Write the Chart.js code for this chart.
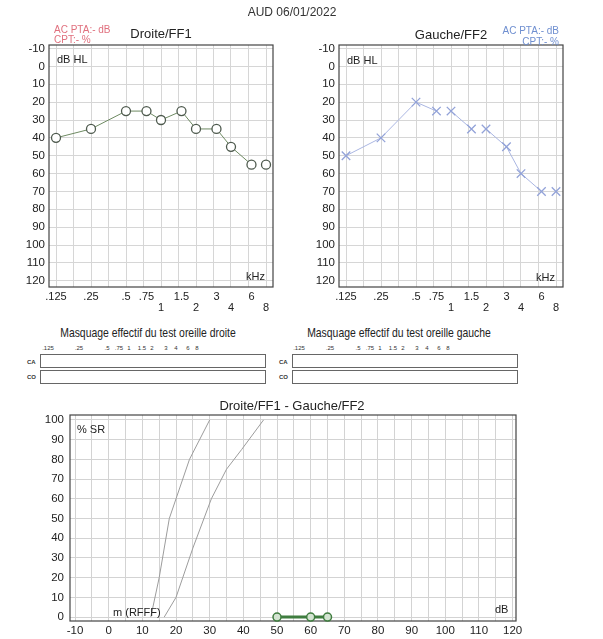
<!DOCTYPE html>
<html>
<head>
<meta charset="utf-8">
<script src="https://cdn.jsdelivr.net/npm/chart.js@4.4.0/dist/chart.umd.min.js"></script>
<style>
  body { margin: 0; background: #fff; font-family: "Liberation Sans", Arial, sans-serif; }
  #page { position: relative; width: 603px; height: 639px; overflow: hidden; }
  canvas { position: absolute; }
  .t { position: absolute; white-space: nowrap; line-height: 1; color: #222; transform: translateY(-50%); }
  .c { transform: translate(-50%, -50%); }
  .r { transform: translate(-100%, -50%); }
  .sq { transform: translate(-50%, -50%) scaleX(0.8); }
  .box { position: absolute; border: 1px solid #666; box-sizing: border-box; }
  .red { color: #e0707e; font-size: 10px; }
  .blue { color: #6f8fd0; font-size: 10px; }
  .tiny { font-size: 6px; color: #333; }
  .lab { font-size: 6px; font-weight: bold; color: #333; }
</style>
</head>
<body>
<div id="page">
  <canvas id="droite" width="290" height="320" style="left:0;top:0"></canvas>
  <canvas id="gauche" width="290" height="320" style="left:290px;top:0"></canvas>
  <canvas id="vocal" width="540" height="239" style="left:0;top:400px"></canvas>

  <div class="t c" style="left:292px;top:12px;font-size:12px;color:#333">AUD 06/01/2022</div>

  <div class="t red" style="left:54px;top:30px">AC PTA:- dB</div>
  <div class="t red" style="left:54px;top:40px">CPT:- %</div>
  <div class="t c" style="left:161px;top:33px;font-size:13px">Droite/FF1</div>
  <div class="t" style="left:57px;top:59px;font-size:11px">dB HL</div>
  <div class="t r" style="left:265px;top:276px;font-size:11px">kHz</div>

  <div class="t c" style="left:451px;top:34px;font-size:13px">Gauche/FF2</div>
  <div class="t blue r" style="left:559px;top:31px">AC PTA:- dB</div>
  <div class="t blue r" style="left:559px;top:42px">CPT:- %</div>
  <div class="t" style="left:347px;top:60px;font-size:11px">dB HL</div>
  <div class="t r" style="left:555px;top:277px;font-size:11px">kHz</div>

  <div class="t sq" style="left:148px;top:332px;font-size:13px">Masquage effectif du test oreille droite</div>
  <div class="t sq" style="left:399px;top:332px;font-size:13px">Masquage effectif du test oreille gauche</div>
  <div id="maskLeft"></div>
  <div id="maskRight"></div>
  <div class="t lab" style="left:27px;top:362px">CA</div>
  <div class="t lab" style="left:27px;top:377px">CO</div>
  <div class="t lab" style="left:279px;top:362px">CA</div>
  <div class="t lab" style="left:279px;top:377px">CO</div>
  <div class="box" style="left:40px;top:354px;width:226px;height:14px"></div>
  <div class="box" style="left:40px;top:370px;width:226px;height:14px"></div>
  <div class="box" style="left:292px;top:354px;width:226px;height:14px"></div>
  <div class="box" style="left:292px;top:370px;width:226px;height:14px"></div>

  <div class="t c" style="left:292px;top:405px;font-size:13px">Droite/FF1 - Gauche/FF2</div>
  <div class="t" style="left:77px;top:429px;font-size:11px">% SR</div>
  <div class="t" style="left:113px;top:612px;font-size:11px">m (RFFF)</div>
  <div class="t" style="left:495px;top:609px;font-size:11px">dB</div>
</div>

<script>
// tonal audiogram (free field)
const freqs = [0.125, 0.25, 0.5, 0.75, 1, 1.5, 2, 3, 4, 6, 8];
const freqLabels = ['.125', '.25', '.5', '.75', '1', '1.5', '2', '3', '4', '6', '8'];
const lowerRow = ['1', '2', '4', '8'];
const droite = [40, 35, 25, 25, 30, 25, 35, 35, 45, 55, 55];
const gauche = [50, 40, 20, 25, 25, 35, 35, 45, 60, 70, 70];
const dbTicks = [-10, 0, 10, 20, 30, 40, 50, 60, 70, 80, 90, 100, 110, 120];

// speech audiogram
const vocalTicks = [-10, -5, 0, 5, 10, 15, 20, 25, 30, 35, 40, 45, 50, 55, 60, 65, 70, 75, 80, 85, 90, 95, 100, 105, 110, 115, 120];
const srTicks = [0, 10, 20, 30, 40, 50, 60, 70, 80, 90, 100];
const normaleA_x = [12.5, 15, 18, 20, 24, 30];
const normaleA_y = [0, 20, 50, 60, 80, 100];
const normaleB_x = [16.5, 20, 22, 25, 30.5, 35, 39.5, 46];
const normaleB_y = [0, 10, 20, 35, 60, 75, 85, 100];
const seuil_x = [50, 60, 65];
const seuil_y = [0, 0, 0];

// masking strip labels (offsets in px from .125)
const maskOffsets = [0, 31, 59, 71, 81, 94, 104, 118, 128, 140, 149];

Chart.defaults.font.family = '"Liberation Sans", Arial, sans-serif';
Chart.defaults.color = '#222';

const frame = {
  id: 'frame',
  beforeDatasetsDraw(chart) {
    const a = chart.chartArea, ctx = chart.ctx;
    ctx.save();
    ctx.strokeStyle = '#444';
    ctx.lineWidth = 1.2;
    ctx.strokeRect(a.left, a.top, a.right - a.left, a.bottom - a.top);
    ctx.restore();
  }
};

// half-octave grid from .125 to 8 kHz
const halfOctaves = [];
for (let k = 0; k <= 12; k++) halfOctaves.push(0.125 * Math.pow(2, k / 2));
const fMin = 0.125 * Math.pow(2, -0.2), fMax = 8 * Math.pow(2, 0.2);

function audiogram(id, values, markColor, lineColor, style, radius) {
  return new Chart(document.getElementById(id), {
    type: 'line',
    data: {
      datasets: [{
        data: freqs.map((f, i) => ({ x: f, y: values[i] })),
        borderColor: lineColor,
        borderWidth: 1,
        pointStyle: style,
        pointRadius: radius,
        pointBorderColor: markColor,
        pointBackgroundColor: '#fff',
        pointBorderWidth: 1.3,
        clip: false,
        segment: {
          // the software leaves no line between close equal symbols
          borderColor: c => (c.p0.parsed.y === c.p1.parsed.y &&
            Math.log2(c.p1.parsed.x / c.p0.parsed.x) < 0.5) ? 'rgba(0,0,0,0)' : lineColor
        }
      }]
    },
    options: {
      responsive: false,
      animation: false,
      layout: { padding: { top: 45, right: 17, left: 0, bottom: 0 } },
      plugins: { legend: { display: false }, tooltip: { enabled: false } },
      scales: {
        x: {
          type: 'logarithmic', min: fMin, max: fMax,
          afterBuildTicks: s => { s.ticks = halfOctaves.map(v => ({ value: v })); },
          ticks: { display: false },
          grid: { color: '#d6d6d6', drawTicks: false },
          border: { display: false },
          afterFit: s => { s.height = 0; }
        },
        xl: {
          type: 'logarithmic', position: 'bottom', min: fMin, max: fMax,
          afterBuildTicks: s => { s.ticks = freqs.map(v => ({ value: v })); },
          ticks: {
            autoSkip: false, maxRotation: 0, padding: 5, color: '#222',
            font: { size: 11, lineHeight: 0.95 },
            callback: (v, i) => lowerRow.includes(freqLabels[i]) ? ['', freqLabels[i]] : freqLabels[i]
          },
          grid: { display: false, drawTicks: false },
          border: { display: false },
          afterFit: s => { s.height = 33; }
        },
        y: {
          reverse: true, min: -12, max: 123.5,
          afterBuildTicks: s => { s.ticks = dbTicks.map(v => ({ value: v })); },
          ticks: { padding: 4, font: { size: 11.5 } },
          grid: { color: '#d6d6d6', drawTicks: false },
          border: { display: false },
          afterFit: s => { s.width = 49; }
        }
      }
    },
    plugins: [frame]
  });
}

audiogram('droite', droite, '#4e5a4e', '#6e8a62', 'circle', 4.5);
audiogram('gauche', gauche, '#92a2d8', '#aab6e2', 'crossRot', 6);

const pts = (xs, ys) => xs.map((x, i) => ({ x: x, y: ys[i] }));

new Chart(document.getElementById('vocal'), {
  type: 'line',
  data: {
    datasets: [
      { data: pts(normaleA_x, normaleA_y), borderColor: '#9c9c9c', borderWidth: 1, pointRadius: 0 },
      { data: pts(normaleB_x, normaleB_y), borderColor: '#9c9c9c', borderWidth: 1, pointRadius: 0 },
      {
        data: pts(seuil_x, seuil_y), borderColor: '#3f7d3f', borderWidth: 3,
        pointStyle: 'circle', pointRadius: 4, pointBorderColor: '#3f7d3f',
        pointBackgroundColor: '#d4e4d2', pointBorderWidth: 1.5, clip: false
      }
    ]
  },
  options: {
    responsive: false,
    animation: false,
    layout: { padding: { top: 15, right: 24, left: 0, bottom: 0 } },
    plugins: { legend: { display: false }, tooltip: { enabled: false } },
    scales: {
      x: {
        type: 'linear', min: -11.5, max: 121,
        afterBuildTicks: s => { s.ticks = vocalTicks.map(v => ({ value: v })); },
        ticks: {
          autoSkip: false, maxRotation: 0, padding: 3, font: { size: 11.5 },
          callback: v => (v % 10 === 0) ? String(v) : ''
        },
        grid: { display: true, color: '#d3d3d3', drawTicks: false },
        border: { display: false },
        afterFit: s => { s.height = 18; }
      },
      y: {
        type: 'linear', min: -2, max: 102.5,
        afterBuildTicks: s => { s.ticks = srTicks.map(v => ({ value: v })); },
        ticks: { padding: 6, font: { size: 11.5 } },
        grid: { display: true, color: '#d3d3d3', drawTicks: false },
        border: { display: false },
        afterFit: s => { s.width = 70; }
      }
    }
  },
  plugins: [frame]
});

// masking strip frequency labels
function maskLabels(id, start) {
  const host = document.getElementById(id);
  freqLabels.forEach((lab, i) => {
    const d = document.createElement('div');
    d.className = 't c tiny';
    d.style.left = (start + maskOffsets[i]) + 'px';
    d.style.top = '348px';
    d.textContent = lab;
    host.appendChild(d);
  });
}
maskLabels('maskLeft', 48);
maskLabels('maskRight', 299);
</script>
</body>
</html>
